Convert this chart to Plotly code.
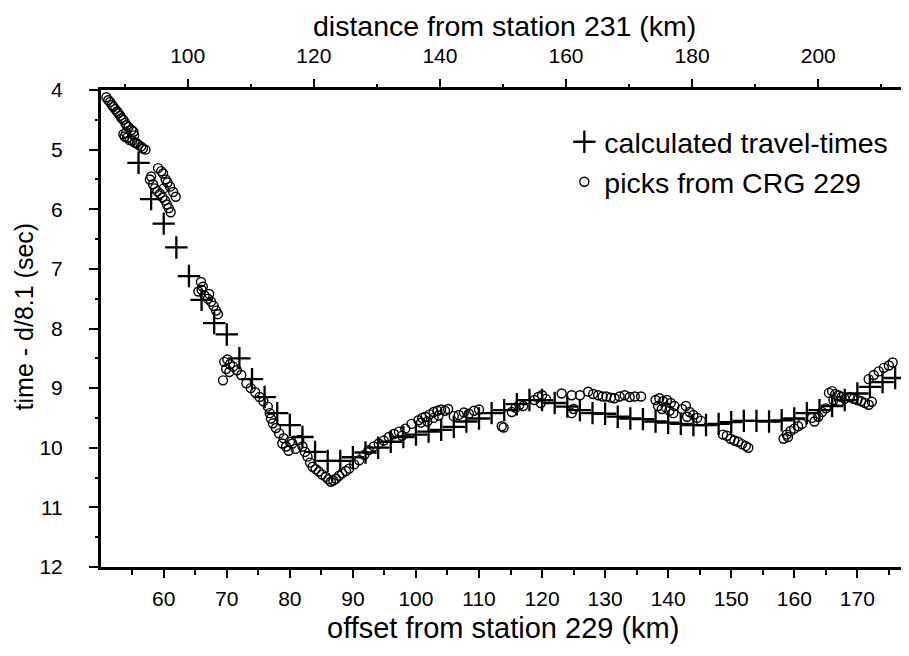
import plotly.graph_objects as go

# calculated travel-times (offset km, reduced time s)
calc_x = [56, 58, 60, 62, 64, 66, 68, 70, 72, 74, 76, 78, 80, 82, 84, 86, 88, 90,
          92, 94, 96, 98, 100, 102, 104, 106, 108, 110, 112, 114, 116, 118, 120,
          122, 124, 126, 128, 130, 132, 134, 136, 138, 140, 142, 144, 146, 148,
          150, 152, 154, 156, 158, 160, 162, 164, 166, 168, 170, 172, 174, 176]
calc_t = [5.22, 5.83, 6.24, 6.64, 7.12, 7.52, 7.91, 8.10, 8.50, 8.85, 9.15, 9.42,
          9.62, 9.82, 10.07, 10.22, 10.22, 10.16, 10.08, 10.00, 9.90, 9.82, 9.78,
          9.73, 9.70, 9.65, 9.56, 9.51, 9.42, 9.37, 9.27, 9.20, 9.20, 9.25, 9.31,
          9.37, 9.42, 9.43, 9.48, 9.51, 9.52, 9.56, 9.58, 9.60, 9.62, 9.62, 9.60,
          9.57, 9.55, 9.55, 9.56, 9.54, 9.51, 9.42, 9.37, 9.30, 9.20, 9.09, 8.98,
          8.90, 8.83]

# picks from CRG 229
pick_x = [50.9, 51.2, 51.5, 51.8, 52.0, 52.3, 52.6, 52.8, 53.1, 53.3, 53.6, 53.9,
          54.1, 54.4, 54.9, 55.2, 53.6, 53.8, 54.2, 54.6, 55.0, 55.4, 55.7, 56.0,
          56.4, 56.7, 57.1, 55.3, 54.0,
          59.1, 59.6, 59.9, 58.0, 57.8, 58.3, 58.6, 59.0, 59.4, 59.8, 60.2, 60.5,
          60.8, 61.1, 60.6, 61.0, 61.5, 61.9, 60.3, 60.0,
          65.9, 66.2, 65.5, 66.5, 67.0, 67.5, 67.9, 68.3, 68.6, 67.2, 66.0,
          69.6, 70.1, 70.5, 71.0, 70.4, 71.6, 72.3, 69.4, 69.9,
          73.1, 73.8, 74.5, 75.2, 75.8, 76.5, 76.8, 77.0, 77.3, 77.8, 78.3, 78.8,
          79.0, 79.4, 79.8, 80.0, 80.4, 80.9, 81.5, 82.0, 82.4, 82.8, 83.2, 83.6,
          84.1, 84.6, 85.1, 85.7, 86.1, 86.5, 86.9, 87.3, 87.8, 88.3, 88.9, 89.4,
          90.2, 91.0, 91.8, 92.5, 93.3, 94.1, 94.9, 95.7, 96.5, 97.3, 98.3, 97.8,
          99.3, 100.4, 101.0, 101.5, 102.2, 102.8, 103.4, 104.0, 104.6, 105.1,
          100.8, 101.8, 102.8, 103.6,
          106.0, 106.8, 107.6, 108.4, 109.2, 110.0, 113.9, 113.6,
          115.2, 115.8, 116.4, 117.0, 118.8, 119.4, 120.0, 120.6, 119.8,
          123.1, 124.7, 126.0, 127.3, 128.1, 128.9, 129.6, 130.2, 130.9, 131.5,
          132.3, 133.1, 133.9, 134.7, 135.7, 124.7, 125.0,
          138.0, 138.6, 139.2, 139.8, 140.4, 138.4, 139.0, 139.6, 140.2, 140.8, 141.0,
          142.2, 142.8, 143.4, 144.0, 144.6, 145.2, 143.0,
          148.7, 149.3, 149.9, 150.5, 151.1, 151.7, 152.3, 152.7,
          158.3, 158.8, 159.4, 160.0, 160.6, 161.2, 159.0,
          162.8, 163.2, 163.8, 164.4, 165.0,
          165.5, 166.0, 166.5, 167.0, 167.5, 168.0, 166.2, 167.2,
          168.8, 169.4, 170.0, 170.6, 171.2, 171.8, 172.3,
          171.8, 172.6, 173.4, 174.2, 175.0, 175.6]
pick_t = [4.12, 4.17, 4.20, 4.25, 4.28, 4.32, 4.36, 4.39, 4.43, 4.47, 4.50, 4.55,
          4.59, 4.62, 4.67, 4.70, 4.74, 4.78, 4.80, 4.84, 4.85, 4.88, 4.89, 4.92,
          4.95, 4.98, 5.00, 4.76, 4.72,
          5.31, 5.36, 5.40, 5.45, 5.50, 5.58, 5.65, 5.70, 5.74, 5.80, 5.85, 5.92,
          5.98, 6.05, 5.55, 5.62, 5.71, 5.79, 5.50, 5.65,
          7.22, 7.30, 7.38, 7.45, 7.50, 7.55, 7.62, 7.70, 7.76, 7.42, 7.35,
          8.56, 8.52, 8.60, 8.64, 8.73, 8.70, 8.78, 8.87, 8.68,
          8.92, 9.00, 9.07, 9.15, 9.22, 9.31, 9.42, 9.51, 9.59, 9.67, 9.76, 9.93,
          9.84, 9.98, 10.05, 9.90, 9.93, 10.02, 9.87, 9.98, 10.07, 10.15, 10.25, 10.32,
          10.36, 10.40, 10.45, 10.49, 10.53, 10.57, 10.55, 10.52, 10.47, 10.43, 10.39, 10.35,
          10.28, 10.21, 10.12, 10.04, 9.98, 9.93, 9.88, 9.82, 9.77, 9.73, 9.68, 9.80,
          9.60, 9.54, 9.50, 9.48, 9.44, 9.40, 9.38, 9.36, 9.38, 9.35,
          9.58, 9.56, 9.50, 9.46,
          9.47, 9.45, 9.41, 9.43, 9.38, 9.36, 9.66, 9.64,
          9.40, 9.33, 9.28, 9.30, 9.20, 9.15, 9.12, 9.18, 9.25,
          9.09, 9.12, 9.12, 9.06, 9.10, 9.12, 9.14, 9.14, 9.16, 9.17,
          9.14, 9.12, 9.15, 9.14, 9.14, 9.42, 9.35,
          9.20, 9.17, 9.22, 9.20, 9.25, 9.30, 9.35, 9.32, 9.38, 9.42, 9.30,
          9.35, 9.30, 9.40, 9.45, 9.50, 9.55, 9.48,
          9.78, 9.80, 9.85, 9.88, 9.90, 9.94, 9.97, 10.00,
          9.85, 9.78, 9.72, 9.68, 9.64, 9.60, 9.82,
          9.50, 9.56, 9.48, 9.40, 9.34,
          9.08, 9.05, 9.10, 9.12, 9.15, 9.18, 9.20, 9.22,
          9.15, 9.18, 9.20, 9.22, 9.25, 9.28, 9.23,
          8.85, 8.78, 8.72, 8.66, 8.62, 8.57]

x_range = [50.05, 177.4]
top_shift = 36.2          # distance from station 231 = offset + shift
y_range = [12.001, 3.999]

FONT = "Liberation Sans, Arial, Helvetica, sans-serif"

fig = go.Figure()
fig.add_trace(go.Scatter(
    x=pick_x, y=pick_t, mode="markers", name="picks from CRG 229",
    legendrank=2,
    marker=dict(symbol="circle-open", size=9, color="black",
                line=dict(width=1.4, color="black")),
))
fig.add_trace(go.Scatter(
    x=calc_x, y=calc_t, mode="markers", name="calculated travel-times",
    legendrank=1,
    marker=dict(symbol="cross-thin-open", size=16, color="black",
                line=dict(width=2.3, color="black")),
))
fig.add_trace(go.Scatter(x=[], y=[], xaxis="x2", showlegend=False))

# page body has an 8px margin: figure is sized/offset so the plot area lands
# at x 101..907, y 90..567 of the window
fig.update_layout(
    width=901, height=648,
    margin=dict(l=93, r=2, t=82, b=89),
    paper_bgcolor="white", plot_bgcolor="white",
    font=dict(family=FONT, color="black", size=21),
    showlegend=True,
    legend=dict(x=0.577, y=0.944, xanchor="left", yanchor="top",
                bgcolor="rgba(0,0,0,0)", font=dict(size=28.5),
                traceorder="normal", itemsizing="trace"),
    xaxis=dict(range=x_range, showgrid=False, zeroline=False,
               showline=True, linewidth=3, linecolor="black", mirror=False,
               ticks="outside", ticklen=8, tickwidth=1.5, tickcolor="black",
               tick0=0, dtick=10, ticklabelstandoff=3,
               minor=dict(dtick=5, tick0=0, ticks="outside", ticklen=5,
                          tickwidth=1.5, tickcolor="black")),
    xaxis2=dict(range=[x_range[0] + top_shift, x_range[1] + top_shift],
                overlaying="x", side="top", anchor="y",
                showgrid=False, zeroline=False,
                showline=True, linewidth=3, linecolor="black",
                ticks="outside", ticklen=8, tickwidth=1.5, tickcolor="black",
                tick0=0, dtick=20, ticklabelstandoff=8,
                minor=dict(dtick=10, tick0=0, ticks="outside", ticklen=3,
                           tickwidth=2, tickcolor="black")),
    yaxis=dict(range=y_range, showgrid=False, zeroline=False,
               showline=True, linewidth=3, linecolor="black", mirror=True,
               ticks="outside", ticklen=9, tickwidth=1.5, tickcolor="black",
               tick0=0, dtick=1, ticklabelstandoff=22,
               minor=dict(dtick=0.5, tick0=0, ticks="outside", ticklen=3,
                          tickwidth=2, tickcolor="black")),
    annotations=[
        dict(text="offset from station 229 (km)", xref="paper", yref="paper",
             x=0.501, y=-0.128, xanchor="center", yanchor="middle",
             showarrow=False, font=dict(size=29)),
        dict(text="distance from station 231 (km)", xref="paper", yref="paper",
             x=0.503, y=1 + 82 / 477, xanchor="center", yanchor="top",
             showarrow=False, font=dict(size=28.5)),
        dict(text="time - d/8.1 (sec)", xref="paper", yref="paper",
             x=-0.0955, y=0.526, xanchor="center", yanchor="middle",
             textangle=-90, showarrow=False, font=dict(size=25)),
    ],
)

fig.write_html("out.html")
